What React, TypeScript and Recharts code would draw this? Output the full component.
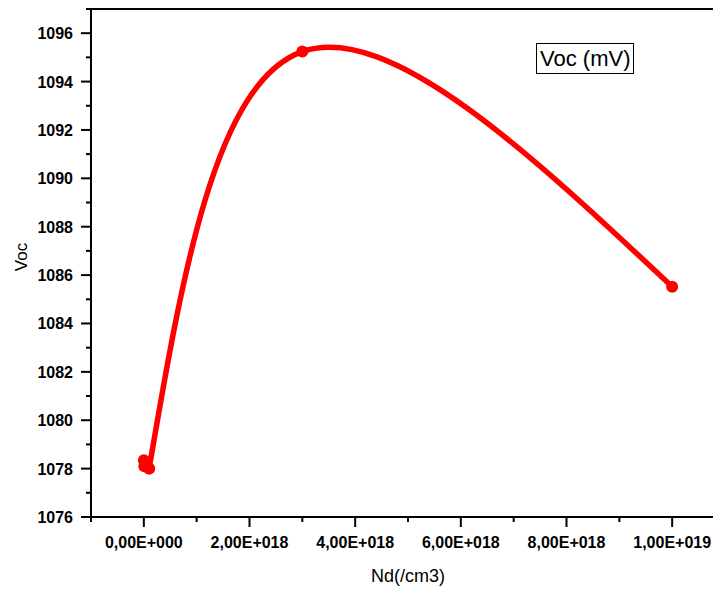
import { Line, LineChart, ReferenceLine, XAxis, YAxis } from 'recharts'

// doping concentration (cm^-3) vs open-circuit voltage (mV)
const ndValues = [1e15, 1e16, 1e17, 3e18, 1e19]
const vocValues = [1078.35, 1078.1, 1078.0, 1095.24, 1085.52]
// the first points sit almost on top of each other, so the spline starts at this index
const splineStart = 2

const xTicks = [-1e18, 0, 1e18, 2e18, 3e18, 4e18, 5e18, 6e18, 7e18, 8e18, 9e18, 1e19, 1.1e19]
const xLabelled = [0, 2e18, 4e18, 6e18, 8e18, 1e19]
const yTicks = [1076, 1077, 1078, 1079, 1080, 1081, 1082, 1083, 1084, 1085, 1086, 1087, 1088, 1089, 1090, 1091, 1092, 1093, 1094, 1095, 1096, 1097]
const yLabelled = [1076, 1078, 1080, 1082, 1084, 1086, 1088, 1090, 1092, 1094, 1096]

const data = ndValues.map((nd, i) => ({
  nd,
  low: i <= splineStart ? vocValues[i] : null,
  voc: i >= splineStart ? vocValues[i] : null,
}))

const FONT = 'Arial, "Liberation Sans", sans-serif'
const RED = '#ff0000'

function sci(value: number) {
  if (value === 0) return '0,00E+000'
  const exp = Math.floor(Math.log10(Math.abs(value)) + 1e-9)
  const mant = value / Math.pow(10, exp)
  const sign = exp < 0 ? '-' : '+'
  return `${mant.toFixed(2).replace('.', ',')}E${sign}${String(Math.abs(exp)).padStart(3, '0')}`
}

function XTick(props: any) {
  const { x, y, payload } = props
  const major = xLabelled.includes(payload.value)
  return (
    <g>
      <line x1={x} x2={x} y1={y} y2={y + (major ? 10 : 5)} stroke="#000" strokeWidth={2} />
      {major && (
        <text x={x} y={y + 31} textAnchor="middle" fontFamily={FONT} fontWeight="bold" fontSize={16} fill="#000">
          {sci(payload.value)}
        </text>
      )}
    </g>
  )
}

function YTick(props: any) {
  const { x, y, payload } = props
  const major = yLabelled.includes(payload.value)
  return (
    <g>
      <line x1={x} x2={x - (major ? 10 : 5)} y1={y} y2={y} stroke="#000" strokeWidth={2} />
      {major && (
        <text x={x - 18} y={y + 6} textAnchor="end" fontFamily={FONT} fontWeight="bold" fontSize={16} fill="#000">
          {payload.value}
        </text>
      )}
    </g>
  )
}

const dotStyle = { r: 6, fill: RED, stroke: RED, strokeWidth: 0 }

export default function App() {
  return (
    <div style={{ position: 'fixed', left: 0, top: 0, width: 713, height: 589, overflow: 'hidden', background: '#fff' }}>
      <LineChart width={760} height={589} data={data} margin={{ top: 9, right: 35, bottom: 0, left: 0 }}>
        <XAxis
          dataKey="nd"
          type="number"
          domain={[-1e18, 1.1e19]}
          ticks={xTicks}
          interval={0}
          allowDataOverflow
          height={72}
          tickSize={0}
          tickMargin={0}
          tick={<XTick />}
          axisLine={{ stroke: '#000', strokeWidth: 2 }}
          label={{ value: 'Nd(/cm3)', position: 'insideBottom', offset: 7, fontFamily: FONT, fontSize: 18, fill: '#000' }}
        />
        <YAxis
          type="number"
          domain={[1076, 1097]}
          ticks={yTicks}
          interval={0}
          allowDataOverflow
          width={91}
          tickSize={0}
          tickMargin={0}
          tick={<YTick />}
          axisLine={{ stroke: '#000', strokeWidth: 2 }}
          label={{
            content: ({ viewBox }: any) => {
              const cy = viewBox.y + viewBox.height / 2 - 6
              return (
                <text x={27} y={cy} transform={`rotate(-90, 27, ${cy})`} textAnchor="middle" fontFamily={FONT} fontSize={17} fill="#000">
                  Voc
                </text>
              )
            },
          }}
        />
        <ReferenceLine y={1097} stroke="#000" strokeWidth={2} ifOverflow="visible" />
        <ReferenceLine x={1.1e19} stroke="#000" strokeWidth={2} ifOverflow="visible" />
        <Line type="linear" dataKey="low" stroke={RED} strokeWidth={5.5} dot={dotStyle} isAnimationActive={false} />
        <Line type="natural" dataKey="voc" stroke={RED} strokeWidth={5.5} dot={dotStyle} isAnimationActive={false} />
      </LineChart>
      <div
        style={{
          position: 'absolute',
          left: 536,
          top: 43,
          border: '1px solid #000',
          padding: '0 3px',
          fontFamily: FONT,
          fontSize: 22,
          lineHeight: '29px',
          color: '#000',
          background: '#fff',
          whiteSpace: 'nowrap',
        }}
      >
        Voc (mV)
      </div>
    </div>
  )
}
